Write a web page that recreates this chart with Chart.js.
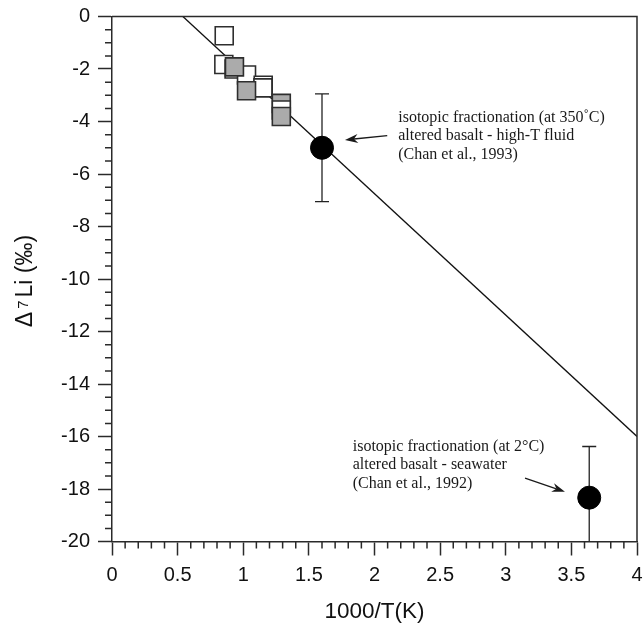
<!DOCTYPE html>
<html>
<head>
<meta charset="utf-8">
<script src="https://cdn.jsdelivr.net/npm/chart.js@4/dist/chart.umd.min.js"></script>
<style>
  html, body { margin: 0; padding: 0; background: #fff; }
  canvas { display: block; }
</style>
</head>
<body>
<canvas id="c" width="644" height="623"></canvas>
<script>
// ---------- data ----------
// squares (drawn in this order; later ones on top)
const squareX    = [0.855, 0.852, 0.93, 1.025, 1.152, 1.15, 1.29, 1.29, 0.933, 1.025, 1.29];
const squareY    = [-0.735, -1.83, -2.0, -2.23, -2.62, -2.72, -3.31, -3.56, -1.92, -2.83, -3.81];
const squareKind = ['open', 'open', 'open', 'open', 'open', 'open', 'gray', 'open', 'gray', 'gray', 'gray'];

// filled circles with error bars
const circleX   = [1.6, 3.636];
const circleY   = [-5.0, -18.33];
const circleErr = [2.05, 1.95];

// fractionation line end points
const fitX = [0.54, 4.0];
const fitY = [0.0, -16.0];

// axis ticks
const xMajorTicks = [0, 0.5, 1, 1.5, 2, 2.5, 3, 3.5, 4];
const yMajorTicks = [0, -2, -4, -6, -8, -10, -12, -14, -16, -18, -20];
const xMinorStep = 0.1;
const yMinorStep = 0.5;

// axis titles
const xTitle = '1000/T(K)';
const yTitleParts = ['Δ', '7', 'Li (‰)'];

// annotations
const note1Lines = ['isotopic fractionation (at 350˚C)', 'altered basalt - high-T fluid', '(Chan et al., 1993)'];
const note1Pos   = [2.181, -4.0];
const arrow1From = [2.097, -4.54];
const arrow1To   = [1.775, -4.70];

const note2Lines = ['isotopic fractionation (at 2°C)', 'altered basalt - seawater', '(Chan et al., 1992)'];
const note2Pos   = [1.834, -16.54];
const arrow2From = [3.147, -17.59];
const arrow2To   = [3.451, -18.10];

// ---------- styling ----------
const AXIS = '#2a2a2a';
const SANS = '"Liberation Sans", Arial, Helvetica, sans-serif';
const SERIF = '16px "Liberation Serif", "Times New Roman", serif';

const squarePts = squareX.map((x, i) => ({ x, y: squareY[i] }));
const circlePts = circleX.map((x, i) => ({ x, y: circleY[i] }));
const fitPts = fitX.map((x, i) => ({ x, y: fitY[i] }));

const framePlugin = {
  id: 'frame',
  beforeDatasetsDraw(chart) {
    const { ctx, chartArea: a, scales: { x, y } } = chart;
    ctx.save();
    ctx.beginPath();
    ctx.rect(a.left, a.top, a.right - a.left, a.bottom - a.top);
    ctx.clip();
    ctx.strokeStyle = '#222';
    ctx.lineWidth = 1.3;
    const cap = 7;
    circleX.forEach((cx, i) => {
      const px = x.getPixelForValue(cx);
      const top = y.getPixelForValue(circleY[i] + circleErr[i]);
      const bot = y.getPixelForValue(circleY[i] - circleErr[i]);
      ctx.beginPath();
      ctx.moveTo(px, top); ctx.lineTo(px, bot);
      ctx.moveTo(px - cap, top); ctx.lineTo(px + cap, top);
      ctx.moveTo(px - cap, bot); ctx.lineTo(px + cap, bot);
      ctx.stroke();
    });
    ctx.restore();
  },
  afterDraw(chart) {
    const { ctx, chartArea: a, scales: { x, y } } = chart;
    ctx.save();
    ctx.strokeStyle = AXIS;
    ctx.lineWidth = 1.5;
    ctx.beginPath();
    ctx.moveTo(a.left, a.top); ctx.lineTo(a.right, a.top); ctx.lineTo(a.right, a.bottom);
    ctx.stroke();
    // minor ticks
    ctx.beginPath();
    for (let k = 0; k * xMinorStep <= x.max - x.min + 1e-9; k++) {
      const v = x.min + k * xMinorStep;
      if (Math.abs(v / 0.5 - Math.round(v / 0.5)) < 1e-6) continue;
      const px = x.getPixelForValue(v);
      ctx.moveTo(px, a.bottom); ctx.lineTo(px, a.bottom + 7);
    }
    for (let k = 0; k * yMinorStep <= y.max - y.min + 1e-9; k++) {
      const v = y.min + k * yMinorStep;
      if (Math.abs(v / 2 - Math.round(v / 2)) < 1e-6) continue;
      const py = y.getPixelForValue(v);
      ctx.moveTo(a.left, py); ctx.lineTo(a.left - 7, py);
    }
    ctx.stroke();

    // y axis title (with raised 7)
    ctx.save();
    ctx.fillStyle = '#111';
    ctx.textBaseline = 'alphabetic';
    ctx.textAlign = 'left';
    const bigF = '23px ' + SANS, smallF = '15px ' + SANS;
    ctx.font = bigF; const w0 = ctx.measureText(yTitleParts[0]).width;
    ctx.font = smallF; const w1 = ctx.measureText(yTitleParts[1]).width;
    ctx.font = bigF; const w2 = ctx.measureText(yTitleParts[2]).width;
    const gap = 3;
    const total = w0 + gap + w1 + gap + w2;
    const cy = (a.top + a.bottom) / 2 + 2;
    ctx.translate(32, cy);
    ctx.rotate(-Math.PI / 2);
    let px0 = -total / 2;
    ctx.font = bigF; ctx.fillText(yTitleParts[0], px0, 0); px0 += w0 + gap;
    ctx.font = smallF; ctx.fillText(yTitleParts[1], px0, -4); px0 += w1 + gap;
    ctx.font = bigF; ctx.fillText(yTitleParts[2], px0, 0);
    ctx.restore();

    // annotations
    ctx.fillStyle = '#1a1a1a';
    ctx.font = SERIF;
    ctx.textAlign = 'left';
    ctx.textBaseline = 'alphabetic';
    const drawNote = (lines, pos) => {
      const px = x.getPixelForValue(pos[0]);
      const py = y.getPixelForValue(pos[1]);
      lines.forEach((t, i) => ctx.fillText(t, px, py + i * 18.6));
    };
    drawNote(note1Lines, note1Pos);
    drawNote(note2Lines, note2Pos);

    const drawArrow = (from, to) => {
      const x0 = x.getPixelForValue(from[0]), y0 = y.getPixelForValue(from[1]);
      const x1 = x.getPixelForValue(to[0]), y1 = y.getPixelForValue(to[1]);
      const ang = Math.atan2(y1 - y0, x1 - x0);
      const L = 13, W = 4.5, notch = 9;
      const c = Math.cos(ang), s = Math.sin(ang);
      ctx.strokeStyle = '#1a1a1a';
      ctx.lineWidth = 1.3;
      ctx.beginPath();
      ctx.moveTo(x0, y0);
      ctx.lineTo(x1 - c * notch, y1 - s * notch);
      ctx.stroke();
      ctx.beginPath();
      ctx.moveTo(x1, y1);
      ctx.lineTo(x1 - c * L + s * W, y1 - s * L - c * W);
      ctx.lineTo(x1 - c * notch, y1 - s * notch);
      ctx.lineTo(x1 - c * L - s * W, y1 - s * L + c * W);
      ctx.closePath();
      ctx.fill();
    };
    drawArrow(arrow1From, arrow1To);
    drawArrow(arrow2From, arrow2To);
    ctx.restore();
  }
};

new Chart(document.getElementById('c'), {
  type: 'scatter',
  data: {
    datasets: [
      {
        label: 'circles',
        data: circlePts,
        pointStyle: 'circle',
        pointRadius: 11.5,
        pointBackgroundColor: '#000',
        pointBorderColor: '#000',
        pointBorderWidth: 1,
        showLine: false
      },
      {
        label: 'squares',
        data: squarePts,
        pointStyle: 'rect',
        pointRadius: 12.7,
        pointBackgroundColor: squareKind.map(k => k === 'gray' ? '#ababab' : '#ffffff'),
        pointBorderColor: '#2e2e2e',
        pointBorderWidth: 1.6,
        showLine: false
      },
      {
        label: 'line',
        data: fitPts,
        showLine: true,
        pointRadius: 0,
        borderColor: '#111',
        borderWidth: 1.3,
        fill: false
      }
    ]
  },
  options: {
    responsive: false,
    animation: false,
    events: [],
    layout: { autoPadding: false, padding: { top: 16.5, right: 7, left: 0, bottom: 0 } },
    plugins: { legend: { display: false }, tooltip: { enabled: false } },
    scales: {
      x: {
        type: 'linear',
        min: 0, max: 4,
        afterBuildTicks: s => { s.ticks = xMajorTicks.map(v => ({ value: v })); },
        afterFit: s => { s.height = 81.5; s.paddingLeft = 0; s.paddingRight = 0; },
        ticks: { font: { family: SANS, size: 20, lineHeight: 2 }, color: '#111', padding: 0,
                 maxRotation: 0, autoSkip: false, callback: v => String(v) },
        grid: { drawOnChartArea: false, drawTicks: true, tickLength: 14, tickColor: AXIS, tickWidth: 1.5 },
        border: { display: true, color: AXIS, width: 1.5 },
        title: { display: true, text: xTitle, color: '#111',
                 font: { family: SANS, size: 22.5, lineHeight: 1 }, padding: { top: 0, bottom: 0 } }
      },
      y: {
        type: 'linear',
        min: -20, max: 0,
        afterBuildTicks: s => { s.ticks = yMajorTicks.slice().reverse().map(v => ({ value: v })); },
        afterFit: s => { s.width = 112; s.paddingTop = 0; s.paddingBottom = 0; },
        ticks: { font: { family: SANS, size: 20 }, color: '#111', padding: 8, autoSkip: false,
                 callback: v => String(v) },
        grid: { drawOnChartArea: false, drawTicks: true, tickLength: 14, tickColor: AXIS, tickWidth: 1.5 },
        border: { display: true, color: AXIS, width: 1.5 },
        title: { display: false }
      }
    }
  },
  plugins: [framePlugin]
});
</script>
</body>
</html>
